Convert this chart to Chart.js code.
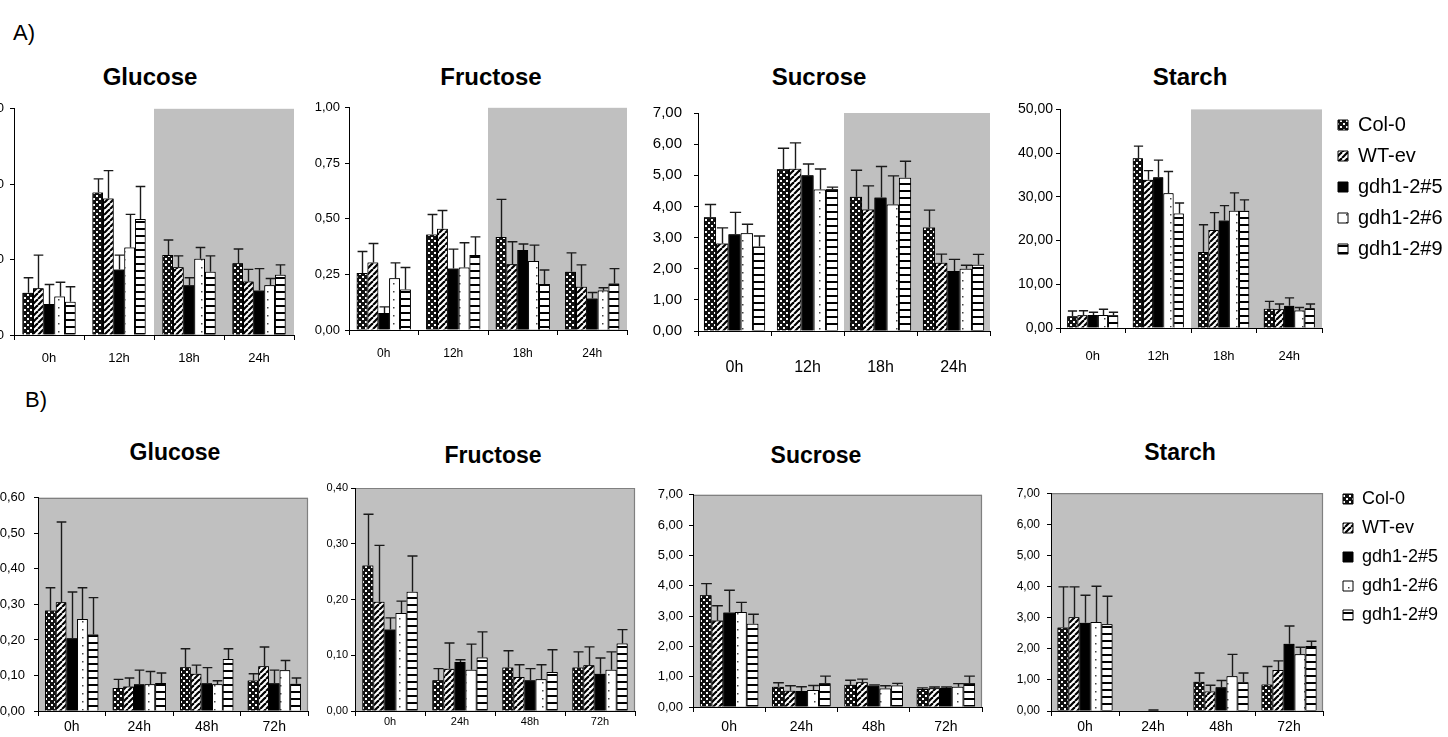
<!DOCTYPE html>
<html><head><meta charset="utf-8">
<script src="https://cdn.jsdelivr.net/npm/chart.js@4.4.0/dist/chart.umd.min.js"></script>
<style>
html,body{margin:0;padding:0;background:#fff;width:1448px;height:737px;overflow:hidden;position:relative;font-family:"Liberation Sans",Arial,sans-serif;}
canvas{position:absolute;}
.t{position:absolute;transform:translate(-50%,-50%);font-weight:bold;white-space:nowrap;color:#000;}
.p{position:absolute;transform:translateY(-50%);color:#000;white-space:nowrap;}
</style></head><body>
<script>
// ---------------- DATA ----------------
const seriesNames = ['Col-0','WT-ev','gdh1-2#5','gdh1-2#6','gdh1-2#9'];
const timesA = ['0h','12h','18h','24h'];
const timesB = ['0h','24h','48h','72h'];

// rows = series (Col-0, WT-ev, gdh1-2#5, gdh1-2#6, gdh1-2#9), columns = time points
const glucoseA_mean = [[0.28,0.945,0.53,0.475],[0.31,0.905,0.45,0.355],[0.205,0.435,0.33,0.295],[0.255,0.58,0.505,0.33],[0.22,0.77,0.42,0.40]];
const glucoseA_err  = [[0.10,0.09,0.10,0.095],[0.22,0.185,0.075,0.08],[0.13,0.095,0.05,0.145],[0.095,0.22,0.075,0.045],[0.10,0.215,0.105,0.065]];
const glucoseA_yTicks = [0,0.5,1.0,1.5];

const fructoseA_mean = [[0.256,0.43,0.418,0.262],[0.304,0.456,0.296,0.195],[0.077,0.277,0.36,0.142],[0.233,0.281,0.311,0.178],[0.182,0.338,0.207,0.209]];
const fructoseA_err  = [[0.097,0.09,0.17,0.085],[0.085,0.082,0.101,0.098],[0.027,0.087,0.027,0.027],[0.069,0.112,0.071,0.012],[0.099,0.081,0.063,0.067]];
const fructoseA_yTicks = [0,0.25,0.5,0.75,1.0];

const sucroseA_mean = [[3.65,5.19,4.31,3.32],[2.81,5.21,3.90,2.19],[3.11,5.00,4.29,1.93],[3.14,4.54,4.06,2.00],[2.71,4.55,4.92,2.13]];
const sucroseA_err  = [[0.41,0.68,0.85,0.56],[0.50,0.83,0.76,0.28],[0.70,0.36,0.99,0.37],[0.29,0.66,0.92,0.11],[0.34,0.07,0.53,0.33]];
const sucroseA_yTicks = [0,1,2,3,4,5,6,7];

const starchA_mean = [[2.7,38.8,17.4,4.4],[2.9,33.9,22.4,4.3],[3.0,34.5,24.6,5.1],[3.0,30.8,26.8,4.0],[2.9,26.2,26.8,4.5]];
const starchA_err  = [[1.2,2.8,6.2,1.7],[1.05,2.1,4.0,1.2],[0.6,3.9,3.4,1.8],[1.3,5.0,4.1,0.7],[0.7,2.4,2.5,1.0]];
const starchA_yTicks = [0,10,20,30,40,50];

const glucoseB_mean = [[0.283,0.065,0.123,0.086],[0.306,0.069,0.105,0.126],[0.205,0.075,0.078,0.078],[0.259,0.075,0.075,0.115],[0.215,0.079,0.146,0.077]];
const glucoseB_err  = [[0.064,0.024,0.052,0.019],[0.226,0.024,0.024,0.054],[0.13,0.04,0.044,0.037],[0.088,0.036,0.01,0.027],[0.104,0.028,0.029,0.016]];
const glucoseB_yTicks = [0,0.1,0.2,0.3,0.4,0.5,0.6];

const fructoseB_mean = [[0.261,0.055,0.078,0.078],[0.196,0.076,0.061,0.082],[0.146,0.088,0.055,0.067],[0.176,0.074,0.057,0.074],[0.214,0.096,0.07,0.121]];
const fructoseB_err  = [[0.092,0.021,0.03,0.028],[0.101,0.046,0.022,0.033],[0.021,0.004,0.021,0.028],[0.021,0.046,0.026,0.032],[0.064,0.046,0.04,0.025]];
const fructoseB_yTicks = [0,0.1,0.2,0.3,0.4];

const sucroseB_mean = [[3.69,0.67,0.73,0.59],[2.85,0.54,0.82,0.62],[3.12,0.53,0.71,0.63],[3.13,0.56,0.61,0.67],[2.75,0.78,0.71,0.78]];
const sucroseB_err  = [[0.38,0.13,0.15,0.04],[0.49,0.16,0.10,0.04],[0.73,0.14,0.02,0.03],[0.32,0.15,0.09,0.10],[0.31,0.24,0.07,0.24]];
const sucroseB_yTicks = [0,1,2,3,4,5,6,7];

const starchB_mean = [[2.68,0,0.94,0.85],[3.01,0,0.63,1.32],[2.84,0.01,0.76,2.16],[2.86,0,1.12,1.82],[2.79,0,0.92,2.09]];
const starchB_err  = [[1.31,0,0.28,0.58],[0.98,0,0.20,0.29],[0.88,0.02,0.22,0.57],[1.15,0,0.70,0.23],[0.90,0,0.30,0.15]];
const starchB_yTicks = [0,1,2,3,4,5,6,7];

// ---------------- LAYOUT / STYLE ----------------
const FONT = '"Liberation Sans", Arial, sans-serif';
Chart.defaults.font.family = FONT;
Chart.defaults.color = '#000';

function makePattern(kind){
  const c = document.createElement('canvas');
  let x;
  if(kind==='check'){
    c.width=6;c.height=6;x=c.getContext('2d');
    x.fillStyle='#111';x.fillRect(0,0,6,6);
    x.fillStyle='#fff';x.fillRect(1,1,2,2);x.fillRect(4,4,2,2);
  } else if(kind==='diag'){
    c.width=6;c.height=6;x=c.getContext('2d');
    x.fillStyle='#fff';x.fillRect(0,0,6,6);
    x.strokeStyle='#000';x.lineWidth=2.2;
    for(const o of [-6,0,6]){x.beginPath();x.moveTo(o,6);x.lineTo(o+6,0);x.stroke();}
  } else if(kind==='dots'){
    c.width=11;c.height=8;x=c.getContext('2d');
    x.fillStyle='#fff';x.fillRect(0,0,11,8);
    x.fillStyle='#444';x.fillRect(5,4,1.5,1.5);
  } else if(kind==='hlines'){
    c.width=4;c.height=7;x=c.getContext('2d');
    x.fillStyle='#fff';x.fillRect(0,0,4,7);
    x.fillStyle='#000';x.fillRect(0,0,4,2);
  }
  return document.createElement('canvas').getContext('2d').createPattern(c,'repeat');
}
const fills = [makePattern('check'), makePattern('diag'), '#000', makePattern('dots'), makePattern('hlines')];

const panels = [
  {title:'Glucose', tx:150, ty:77, tf:24, cats:timesA, mean:glucoseA_mean, err:glucoseA_err, yt:glucoseA_yTicks,
   l:14,r:294,t:105,b:335,yFont:13,yPad:6,xFont:13,xPad:11,cat:0.76,shade:'half'},
  {title:'Fructose', tx:491, ty:77, tf:24, cats:timesA, mean:fructoseA_mean, err:fructoseA_err, yt:fructoseA_yTicks,
   l:349,r:627,t:105,b:330,yFont:13,yPad:5,xFont:12,xPad:11,cat:0.78,shade:'half'},
  {title:'Sucrose', tx:819, ty:77, tf:24, cats:timesA, mean:sucroseA_mean, err:sucroseA_err, yt:sucroseA_yTicks,
   l:698,r:990,t:102,b:331,yFont:15,yPad:12,xFont:16,xPad:22,cat:0.84,shade:'half'},
  {title:'Starch', tx:1190, ty:77, tf:24, cats:timesA, mean:starchA_mean, err:starchA_err, yt:starchA_yTicks,
   l:1060,r:1322,t:108,b:328,yFont:14,yPad:3,xFont:13,xPad:16,cat:0.78,shade:'half', legend:{x:1338,y:125,font:20}},
  {title:'Glucose', tx:175, ty:452, tf:23, cats:timesB, mean:glucoseB_mean, err:glucoseB_err, yt:glucoseB_yTicks,
   l:38,r:308,t:491,b:711,yFont:13,yPad:9,xFont:14,xPad:3,cat:0.79,shade:'full'},
  {title:'Fructose', tx:493, ty:455, tf:23, cats:timesB, mean:fructoseB_mean, err:fructoseB_err, yt:fructoseB_yTicks,
   l:355,r:635,t:488,b:711,yFont:11,yPad:3,xFont:11,xPad:-1,cat:0.79,shade:'full'},
  {title:'Sucrose', tx:816, ty:455, tf:23, cats:timesB, mean:sucroseB_mean, err:sucroseB_err, yt:sucroseB_yTicks,
   l:693,r:982,t:491,b:707,yFont:13,yPad:6,xFont:14,xPad:7,cat:0.81,shade:'full'},
  {title:'Starch', tx:1180, ty:452, tf:23, cats:timesB, mean:starchB_mean, err:starchB_err, yt:starchB_yTicks,
   l:1051,r:1323,t:489,b:711,yFont:12,yPad:7,xFont:14,xPad:3,cat:0.81,shade:'full', legend:{x:1343,y:499,font:18}}
];

function addText(cls, txt, x, y, size){
  const d=document.createElement('div');d.className=cls;d.textContent=txt;
  d.style.left=x+'px';d.style.top=y+'px';d.style.fontSize=size+'px';document.body.appendChild(d);
}
addText('p','A)',13,33,22);
addText('p','B)',25,400,22);

const shadePlugin = {
  id:'shade',
  beforeDraw(chart, args, o){
    const {ctx, chartArea:a} = chart; const xs = chart.scales.x;
    ctx.save(); ctx.fillStyle='#c0c0c0';
    if(o.mode==='half'){
      const xb = Math.round((xs.getPixelForValue(1)+xs.getPixelForValue(2))/2);
      ctx.fillRect(xb, a.top, a.right-xb, a.bottom-a.top);
    } else {
      ctx.fillRect(a.left, a.top, a.right-a.left, a.bottom-a.top);
      ctx.strokeStyle='#808080'; ctx.lineWidth=1.2;
      ctx.beginPath(); ctx.moveTo(a.left, a.top+0.5); ctx.lineTo(a.right-0.5, a.top+0.5); ctx.lineTo(a.right-0.5, a.bottom); ctx.stroke();
    }
    ctx.restore();
  }
};
// Excel-like order: each series' bars followed by its error bars, so later series cover earlier caps
const errPlugin = {
  id:'errbars',
  afterDatasetsDraw(chart, args, o){
    const errs = o.errors; if(!errs) return;
    const ys = chart.scales.y, ctx = chart.ctx;
    chart.data.datasets.forEach((ds,i)=>{
      const meta = chart.getDatasetMeta(i);
      meta.data.forEach(bar=>bar.draw(ctx));
      ctx.save(); ctx.strokeStyle='#1a1a1a'; ctx.lineWidth=1.4;
      meta.data.forEach((bar,j)=>{
        const e = errs[i][j]; if(!e) return;
        const top = ys.getPixelForValue(ds.data[j]+e);
        const x = Math.round(bar.x)+0.5, hw = bar.width/2 - 0.5;
        ctx.beginPath();
        ctx.moveTo(x, bar.y); ctx.lineTo(x, top);
        ctx.moveTo(x-hw, top); ctx.lineTo(x+hw, top);
        ctx.stroke();
      });
      ctx.restore();
    });
  }
};
const legendPosPlugin = {
  id:'legendPos',
  afterLayout(chart, args, o){
    if(!o.on || !chart.legend) return;
    const L = chart.legend, w = L.width, h = L.height;
    L.left = o.left; L.top = o.top; L.right = o.left + w + 40; L.bottom = o.top + h;
  }
};

const PAD_T = 10, Y_W = 60, X_H = 45, LEG_PAD = 11;
panels.forEach(p=>{
  addText('t', p.title, p.tx, p.ty, p.tf);
  const cl = p.l - Y_W, ct = p.t - PAD_T;
  const cw = p.legend ? (1448 - cl) : (p.r - cl + 6);
  const ch = p.b + X_H - ct;
  const padR = cw - (p.r - cl);
  const cv = document.createElement('canvas');
  cv.width = cw; cv.height = ch; cv.style.left = cl+'px'; cv.style.top = ct+'px';
  document.body.appendChild(cv);
  const datasets = seriesNames.map((n,i)=>({
    label:n, data:p.mean[i], backgroundColor:fills[i], borderColor:'#000', borderWidth:1,
    categoryPercentage:p.cat, barPercentage:1.0
  }));
  const leg = p.legend;
  new Chart(cv, {
    type:'bar',
    data:{labels:p.cats, datasets},
    plugins:[shadePlugin, errPlugin, legendPosPlugin],
    options:{
      responsive:false, animation:false, devicePixelRatio:1,
      layout:{padding:{top:PAD_T, right:padR, left:0, bottom:0}},
      plugins:{
        tooltip:{enabled:false},
        shade:{mode:p.shade},
        errbars:{errors:p.err},
        legendPos: leg ? {on:true, left:leg.x - LEG_PAD - cl, top:(leg.y - leg.font/2 - LEG_PAD) - ct} : {on:false},
        legend: leg ? {display:true, position:'chartArea', align:'start',
          labels:{boxWidth:10, boxHeight:10, padding:LEG_PAD, color:'#000', font:{size:leg.font, family:FONT}}} : {display:false}
      },
      scales:{
        x:{
          grid:{display:true, drawOnChartArea:false, drawTicks:true, tickLength:5, color:'#000', offset:true},
          border:{display:true, color:'#000', width:1},
          ticks:{font:{size:p.xFont}, padding:p.xPad, color:'#000', maxRotation:0, autoSkip:false},
          afterFit(s){ s.height = X_H; }
        },
        y:{
          min:p.yt[0], max:p.yt[p.yt.length-1],
          grid:{display:true, drawOnChartArea:false, drawTicks:true, tickLength:4, color:'#000'},
          border:{display:true, color:'#000', width:1},
          ticks:{font:{size:p.yFont}, padding:p.yPad, color:'#000',
                 callback:(v)=>Number(v).toFixed(2).replace('.',',')},
          afterBuildTicks(s){ s.ticks = p.yt.map(v=>({value:v})); },
          afterFit(s){ s.width = Y_W; }
        }
      }
    }
  });
});
</script>
</body></html>
